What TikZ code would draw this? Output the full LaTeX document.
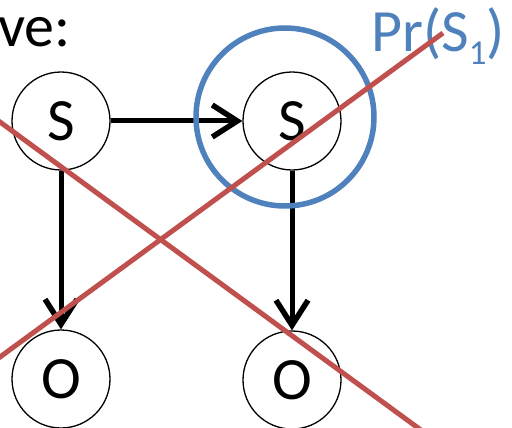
\documentclass[tikz,border=0pt]{standalone}
\usepackage{fontspec}
\setmainfont{Carlito}
\usetikzlibrary{arrows.meta}
\definecolor{crossred}{RGB}{192,80,77}
\definecolor{markblue}{RGB}{79,129,189}
\tikzset{
    state/.style = {draw, circle, line width = 1.3pt, minimum size = 98pt, inner sep = 0pt,
        font = \fontsize{60}{60}\selectfont},
    link/.style = {line width = 5pt, -{Straight Barb[length = 25pt, width = 32pt, line width = 5.5pt]}}
}
\begin{document}
\begin{tikzpicture}[x = 1pt, y = -1pt]
        \useasboundingbox (0,0) rectangle (512,428);

        \node at (-2, 47) [anchor = base west, inner sep = 0pt] {\fontsize{60}{60}\selectfont ve:};

        \node [state] (s1) at (61, 121) {S};
        \node [state] (s2) at (292, 121) {S};
        \node [state] (o1) at (61, 379) {O};
        \node [state] (o2) at (292, 380) {O};

        \draw [link] (s1) -- (s2);
        \draw [link] (s1) -- (o1);
        \draw [link] (s2) -- (o2);

        \draw [markblue, line width = 5.5pt] (285, 117) circle (89);
        \node at (371, 52) [anchor = base west, inner sep = 0pt, markblue]
            {\fontsize{60}{60}\selectfont Pr(S\raisebox{-13pt}{\fontsize{35}{35}\selectfont 1})};

        \draw [crossred, line width = 5pt] (-10, 114.7) -- (440, 444);
        \draw [crossred, line width = 5pt] (-10, 364.3) -- (443, 33);
    \end{tikzpicture}
\end{document}
